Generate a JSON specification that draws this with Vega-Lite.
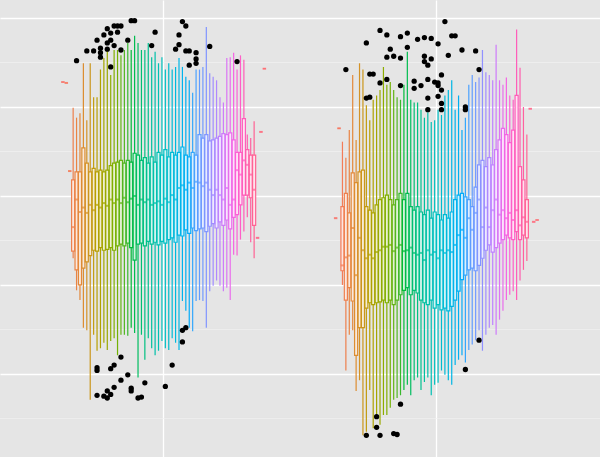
{
  "$schema": "https://vega.github.io/schema/vega-lite/v6.json",
  "width": 600,
  "height": 457,
  "autosize": {"type": "none"},
  "padding": 0,
  "background": "#E5E5E5",
  "config": {"view": {"stroke": null, "fill": "#E5E5E5"}},
  "datasets": {
    "minor": [{"v": -5}, {"v": 5}, {"v": 15}, {"v": 25}, {"v": 35}],
    "boxes": [
      {"g":"a","k":1,"lo":32.8,"q1":32.8,"med":32.8,"q3":32.8,"hi":32.8},
      {"g":"a","k":2,"lo":32.7,"q1":32.7,"med":32.7,"q3":32.7,"hi":32.7},
      {"g":"a","k":3,"lo":22.8,"q1":22.8,"med":22.8,"q3":22.8,"hi":22.8},
      {"g":"a","k":4,"lo":13.0,"q1":13.8,"med":16.5,"q3":21.8,"hi":29.9},
      {"g":"a","k":5,"lo":9.4,"q1":11.7,"med":19.6,"q3":22.7,"hi":28.8},
      {"g":"a","k":6,"lo":8.3,"q1":10.0,"med":18.2,"q3":22.7,"hi":29.3},
      {"g":"a","k":7,"lo":5.2,"q1":11.9,"med":18.7,"q3":25.4,"hi":34.9},
      {"g":"a","k":8,"lo":4.9,"q1":12.6,"med":18.1,"q3":23.7,"hi":28.5},
      {"g":"a","k":9,"lo":-2.9,"q1":13.3,"med":19.0,"q3":22.7,"hi":34.9},
      {"g":"a","k":10,"lo":4.4,"q1":13.9,"med":18.4,"q3":23.1,"hi":31.1},
      {"g":"a","k":11,"lo":2.6,"q1":13.8,"med":19.0,"q3":22.7,"hi":31.1},
      {"g":"a","k":12,"lo":2.9,"q1":14.2,"med":18.7,"q3":22.9,"hi":34.2},
      {"g":"a","k":13,"lo":3.5,"q1":13.9,"med":19.2,"q3":22.7,"hi":35.5},
      {"g":"a","k":14,"lo":2.7,"q1":14.0,"med":18.9,"q3":22.9,"hi":36.4},
      {"g":"a","k":15,"lo":3.7,"q1":14.2,"med":19.6,"q3":23.4,"hi":33.6},
      {"g":"a","k":16,"lo":4.0,"q1":13.9,"med":19.2,"q3":23.7,"hi":36.4},
      {"g":"a","k":17,"lo":2.1,"q1":14.4,"med":19.6,"q3":23.8,"hi":36.4},
      {"g":"a","k":18,"lo":4.4,"q1":14.6,"med":19.2,"q3":24.0,"hi":35.8},
      {"g":"a","k":19,"lo":4.4,"q1":14.4,"med":19.8,"q3":23.7,"hi":36.4},
      {"g":"a","k":20,"lo":4.3,"q1":14.7,"med":19.3,"q3":24.0,"hi":37.2},
      {"g":"a","k":21,"lo":5.2,"q1":14.2,"med":19.7,"q3":23.8,"hi":36.4},
      {"g":"a","k":22,"lo":4.6,"q1":12.8,"med":20.0,"q3":24.8,"hi":38.0},
      {"g":"a","k":23,"lo":-0.4,"q1":14.6,"med":19.0,"q3":24.6,"hi":37.2},
      {"g":"a","k":24,"lo":4.4,"q1":14.7,"med":19.6,"q3":24.0,"hi":36.4},
      {"g":"a","k":25,"lo":1.6,"q1":14.4,"med":19.3,"q3":24.3,"hi":36.4},
      {"g":"a","k":26,"lo":4.0,"q1":14.9,"med":19.6,"q3":23.7,"hi":37.2},
      {"g":"a","k":27,"lo":2.9,"q1":14.6,"med":19.0,"q3":24.4,"hi":35.6},
      {"g":"a","k":28,"lo":2.1,"q1":14.8,"med":19.2,"q3":23.8,"hi":36.2},
      {"g":"a","k":29,"lo":2.6,"q1":14.5,"med":19.4,"q3":24.9,"hi":34.9},
      {"g":"a","k":30,"lo":3.7,"q1":14.9,"med":19.0,"q3":24.6,"hi":35.6},
      {"g":"a","k":31,"lo":2.9,"q1":14.7,"med":19.7,"q3":25.2,"hi":34.2},
      {"g":"a","k":32,"lo":2.7,"q1":15.1,"med":19.3,"q3":24.4,"hi":34.9},
      {"g":"a","k":33,"lo":4.0,"q1":15.3,"med":20.1,"q3":24.9,"hi":34.2},
      {"g":"a","k":34,"lo":3.5,"q1":14.8,"med":19.6,"q3":24.6,"hi":34.5},
      {"g":"a","k":35,"lo":2.7,"q1":15.6,"med":20.9,"q3":24.9,"hi":35.5},
      {"g":"a","k":36,"lo":8.2,"q1":15.5,"med":21.2,"q3":25.5,"hi":34.5},
      {"g":"a","k":37,"lo":7.1,"q1":16.2,"med":20.7,"q3":24.6,"hi":33.4},
      {"g":"a","k":38,"lo":5.2,"q1":15.8,"med":21.5,"q3":24.4,"hi":33.0},
      {"g":"a","k":39,"lo":4.8,"q1":16.4,"med":20.9,"q3":24.9,"hi":31.6},
      {"g":"a","k":40,"lo":8.2,"q1":16.1,"med":21.6,"q3":24.6,"hi":34.2},
      {"g":"a","k":41,"lo":8.3,"q1":16.3,"med":21.5,"q3":26.9,"hi":34.2},
      {"g":"a","k":42,"lo":8.2,"q1":16.4,"med":21.1,"q3":26.5,"hi":34.5},
      {"g":"a","k":43,"lo":5.2,"q1":16.0,"med":21.5,"q3":26.9,"hi":39.0},
      {"g":"a","k":44,"lo":9.3,"q1":16.6,"med":20.7,"q3":26.2,"hi":33.8},
      {"g":"a","k":45,"lo":9.9,"q1":16.9,"med":20.1,"q3":26.3,"hi":33.4},
      {"g":"a","k":46,"lo":10.5,"q1":16.4,"med":20.7,"q3":26.5,"hi":33.0},
      {"g":"a","k":47,"lo":9.9,"q1":17.1,"med":20.1,"q3":26.7,"hi":31.1},
      {"g":"a","k":48,"lo":9.3,"q1":16.7,"med":19.6,"q3":27.0,"hi":30.5},
      {"g":"a","k":49,"lo":9.7,"q1":17.3,"med":20.9,"q3":26.9,"hi":35.5},
      {"g":"a","k":50,"lo":8.3,"q1":16.3,"med":19.0,"q3":27.1,"hi":35.6},
      {"g":"a","k":51,"lo":13.4,"q1":17.6,"med":19.6,"q3":26.3,"hi":36.1},
      {"g":"a","k":52,"lo":13.3,"q1":17.9,"med":22.9,"q3":24.9,"hi":34.2},
      {"g":"a","k":53,"lo":15.1,"q1":19.0,"med":22.4,"q3":24.9,"hi":35.8},
      {"g":"a","k":54,"lo":16.0,"q1":20.1,"med":24.0,"q3":28.7,"hi":35.3},
      {"g":"a","k":55,"lo":17.6,"q1":20.1,"med":23.5,"q3":25.2,"hi":26.9},
      {"g":"a","k":56,"lo":14.8,"q1":19.8,"med":22.4,"q3":24.6,"hi":26.5},
      {"g":"a","k":57,"lo":13.0,"q1":16.7,"med":20.7,"q3":24.6,"hi":28.4},
      {"g":"a","k":58,"lo":15.3,"q1":15.3,"med":15.3,"q3":15.3,"hi":15.3},
      {"g":"a","k":59,"lo":27.2,"q1":27.2,"med":27.2,"q3":27.2,"hi":27.2},
      {"g":"a","k":60,"lo":34.3,"q1":34.3,"med":34.3,"q3":34.3,"hi":34.3},
      {"g":"b","k":1,"lo":17.5,"q1":17.5,"med":17.5,"q3":17.5,"hi":17.5},
      {"g":"b","k":2,"lo":27.6,"q1":27.6,"med":27.6,"q3":27.6,"hi":27.6},
      {"g":"b","k":3,"lo":10.0,"q1":11.6,"med":12.2,"q3":18.8,"hi":26.1},
      {"g":"b","k":4,"lo":0.4,"q1":8.3,"med":13.1,"q3":20.3,"hi":24.3},
      {"g":"b","k":5,"lo":4.4,"q1":9.7,"med":13.3,"q3":18.1,"hi":27.4},
      {"g":"b","k":6,"lo":4.9,"q1":8.2,"med":16.4,"q3":22.6,"hi":33.6},
      {"g":"b","k":7,"lo":-1.9,"q1":2.1,"med":11.1,"q3":21.5,"hi":26.3},
      {"g":"b","k":8,"lo":-0.7,"q1":5.2,"med":15.3,"q3":22.7,"hi":34.9},
      {"g":"b","k":9,"lo":-6.9,"q1":5.2,"med":13.9,"q3":22.9,"hi":34.2},
      {"g":"b","k":10,"lo":-6.5,"q1":7.4,"med":13.0,"q3":18.8,"hi":30.2},
      {"g":"b","k":11,"lo":-1.8,"q1":8.0,"med":13.4,"q3":18.4,"hi":28.5},
      {"g":"b","k":12,"lo":-6.1,"q1":7.8,"med":13.0,"q3":18.1,"hi":30.8},
      {"g":"b","k":13,"lo":-4.6,"q1":8.0,"med":13.7,"q3":19.0,"hi":31.3},
      {"g":"b","k":14,"lo":-5.7,"q1":8.1,"med":13.9,"q3":19.6,"hi":31.9},
      {"g":"b","k":15,"lo":-4.6,"q1":8.3,"med":14.3,"q3":19.8,"hi":34.5},
      {"g":"b","k":16,"lo":-4.6,"q1":8.0,"med":14.3,"q3":20.1,"hi":32.5},
      {"g":"b","k":17,"lo":-3.8,"q1":8.3,"med":14.5,"q3":19.6,"hi":32.8},
      {"g":"b","k":18,"lo":-2.9,"q1":7.8,"med":13.8,"q3":19.0,"hi":31.9},
      {"g":"b","k":19,"lo":-2.7,"q1":8.3,"med":14.2,"q3":19.6,"hi":31.1},
      {"g":"b","k":20,"lo":-2.4,"q1":8.9,"med":14.5,"q3":20.3,"hi":30.8},
      {"g":"b","k":21,"lo":-1.8,"q1":9.4,"med":13.8,"q3":19.6,"hi":32.5},
      {"g":"b","k":22,"lo":-1.2,"q1":9.7,"med":13.9,"q3":20.3,"hi":36.2},
      {"g":"b","k":23,"lo":-2.4,"q1":8.9,"med":14.2,"q3":18.8,"hi":30.8},
      {"g":"b","k":24,"lo":-0.7,"q1":9.4,"med":13.6,"q3":18.4,"hi":30.5},
      {"g":"b","k":25,"lo":-0.4,"q1":9.1,"med":13.4,"q3":18.8,"hi":30.5},
      {"g":"b","k":26,"lo":-1.8,"q1":8.3,"med":13.6,"q3":18.2,"hi":29.7},
      {"g":"b","k":27,"lo":-0.9,"q1":8.0,"med":12.8,"q3":17.9,"hi":28.8},
      {"g":"b","k":28,"lo":-0.4,"q1":7.8,"med":13.9,"q3":18.4,"hi":29.4},
      {"g":"b","k":29,"lo":-2.4,"q1":8.3,"med":13.4,"q3":17.5,"hi":28.3},
      {"g":"b","k":30,"lo":-1.2,"q1":7.4,"med":13.7,"q3":18.2,"hi":28.5},
      {"g":"b","k":31,"lo":-1.0,"q1":7.8,"med":13.0,"q3":17.9,"hi":29.7},
      {"g":"b","k":32,"lo":0.4,"q1":7.2,"med":13.9,"q3":17.3,"hi":29.1},
      {"g":"b","k":33,"lo":-0.1,"q1":7.4,"med":13.6,"q3":17.9,"hi":31.3},
      {"g":"b","k":34,"lo":-0.7,"q1":7.1,"med":13.9,"q3":17.5,"hi":31.9},
      {"g":"b","k":35,"lo":-1.2,"q1":7.6,"med":13.7,"q3":18.2,"hi":33.0},
      {"g":"b","k":36,"lo":1.0,"q1":8.3,"med":14.5,"q3":19.6,"hi":29.7},
      {"g":"b","k":37,"lo":1.6,"q1":9.3,"med":15.6,"q3":20.1,"hi":31.3},
      {"g":"b","k":38,"lo":2.1,"q1":10.6,"med":16.2,"q3":20.3,"hi":27.4},
      {"g":"b","k":39,"lo":1.3,"q1":11.1,"med":15.3,"q3":19.9,"hi":28.8},
      {"g":"b","k":40,"lo":2.7,"q1":11.7,"med":17.5,"q3":19.6,"hi":32.5},
      {"g":"b","k":41,"lo":3.3,"q1":11.9,"med":16.2,"q3":18.8,"hi":33.6},
      {"g":"b","k":42,"lo":3.8,"q1":11.6,"med":18.1,"q3":21.0,"hi":32.8},
      {"g":"b","k":43,"lo":4.9,"q1":12.2,"med":19.6,"q3":23.5,"hi":33.3},
      {"g":"b","k":44,"lo":2.6,"q1":13.0,"med":16.5,"q3":24.0,"hi":36.4},
      {"g":"b","k":45,"lo":4.4,"q1":13.9,"med":18.7,"q3":23.3,"hi":33.9},
      {"g":"b","k":46,"lo":5.2,"q1":14.5,"med":16.5,"q3":24.3,"hi":33.6},
      {"g":"b","k":47,"lo":5.5,"q1":13.7,"med":18.4,"q3":23.5,"hi":33.0},
      {"g":"b","k":48,"lo":4.4,"q1":14.2,"med":19.6,"q3":25.2,"hi":37.0},
      {"g":"b","k":49,"lo":6.1,"q1":14.7,"med":17.9,"q3":26.3,"hi":33.0},
      {"g":"b","k":50,"lo":7.1,"q1":15.1,"med":18.4,"q3":27.6,"hi":32.5},
      {"g":"b","k":51,"lo":8.3,"q1":15.6,"med":17.5,"q3":26.9,"hi":33.3},
      {"g":"b","k":52,"lo":8.9,"q1":15.3,"med":18.1,"q3":26.0,"hi":31.3},
      {"g":"b","k":53,"lo":9.3,"q1":15.1,"med":17.3,"q3":27.4,"hi":30.8},
      {"g":"b","k":54,"lo":8.3,"q1":16.0,"med":18.4,"q3":31.3,"hi":38.7},
      {"g":"b","k":55,"lo":10.5,"q1":15.1,"med":16.7,"q3":23.3,"hi":34.4},
      {"g":"b","k":56,"lo":11.7,"q1":15.6,"med":17.6,"q3":21.8,"hi":30.0},
      {"g":"b","k":57,"lo":12.7,"q1":15.3,"med":17.1,"q3":19.6,"hi":26.9},
      {"g":"b","k":58,"lo":29.8,"q1":29.8,"med":29.8,"q3":29.8,"hi":29.8},
      {"g":"b","k":59,"lo":17.1,"q1":17.1,"med":17.1,"q3":17.1,"hi":17.1},
      {"g":"b","k":60,"lo":17.3,"q1":17.3,"med":17.3,"q3":17.3,"hi":17.3}
    ],
    "outliers": [
      {"g":"a","k":5,"v":35.2},{"g":"a","k":8,"v":36.3},{"g":"a","k":10,"v":36.3},{"g":"a","k":11,"v":37.5},
      {"g":"a","k":12,"v":36.6},{"g":"a","k":12,"v":36.1},{"g":"a","k":12,"v":35.6},{"g":"a","k":13,"v":38.1},
      {"g":"a","k":14,"v":38.8},{"g":"a","k":14,"v":37.2},{"g":"a","k":14,"v":36.5},{"g":"a","k":15,"v":37.5},
      {"g":"a","k":15,"v":34.5},{"g":"a","k":15,"v":38.3},{"g":"a","k":16,"v":39.1},{"g":"a","k":16,"v":36.9},
      {"g":"a","k":17,"v":39.1},{"g":"a","k":17,"v":38.4},{"g":"a","k":18,"v":39.1},{"g":"a","k":18,"v":36.4},
      {"g":"a","k":20,"v":37.5},{"g":"a","k":21,"v":39.7},{"g":"a","k":22,"v":39.7},{"g":"a","k":27,"v":36.9},
      {"g":"a","k":28,"v":38.4},{"g":"a","k":34,"v":36.5},{"g":"a","k":35,"v":38.1},{"g":"a","k":35,"v":37.0},
      {"g":"a","k":36,"v":39.6},{"g":"a","k":37,"v":39.1},{"g":"a","k":37,"v":36.3},{"g":"a","k":38,"v":36.3},
      {"g":"a","k":38,"v":34.7},{"g":"a","k":40,"v":36.1},{"g":"a","k":40,"v":35.4},{"g":"a","k":40,"v":34.9},
      {"g":"a","k":44,"v":36.8},{"g":"a","k":52,"v":35.1},
      {"g":"a","k":11,"v":0.7},{"g":"a","k":11,"v":0.4},{"g":"a","k":11,"v":-2.4},{"g":"a","k":13,"v":-2.5},
      {"g":"a","k":14,"v":-1.9},{"g":"a","k":14,"v":-2.7},{"g":"a","k":15,"v":-2.3},{"g":"a","k":15,"v":0.6},
      {"g":"a","k":16,"v":1.0},{"g":"a","k":16,"v":-1.5},{"g":"a","k":18,"v":1.9},{"g":"a","k":18,"v":-0.7},
      {"g":"a","k":20,"v":-0.1},{"g":"a","k":21,"v":-1.6},{"g":"a","k":21,"v":-1.9},{"g":"a","k":23,"v":-2.7},
      {"g":"a","k":24,"v":-2.6},{"g":"a","k":25,"v":-1.0},{"g":"a","k":31,"v":-1.4},{"g":"a","k":33,"v":1.0},
      {"g":"a","k":36,"v":3.6},{"g":"a","k":36,"v":4.9},{"g":"a","k":37,"v":5.2},
      {"g":"b","k":4,"v":34.2},{"g":"b","k":10,"v":37.2},{"g":"b","k":10,"v":31.0},{"g":"b","k":11,"v":31.1},
      {"g":"b","k":11,"v":33.7},{"g":"b","k":12,"v":33.7},{"g":"b","k":14,"v":38.6},{"g":"b","k":14,"v":32.7},
      {"g":"b","k":16,"v":33.1},{"g":"b","k":16,"v":38.1},{"g":"b","k":16,"v":35.6},{"g":"b","k":17,"v":36.5},
      {"g":"b","k":18,"v":35.7},{"g":"b","k":20,"v":37.9},{"g":"b","k":20,"v":35.5},{"g":"b","k":20,"v":32.4},
      {"g":"b","k":22,"v":38.3},{"g":"b","k":22,"v":36.7},{"g":"b","k":24,"v":32.9},{"g":"b","k":24,"v":32.1},
      {"g":"b","k":25,"v":37.6},{"g":"b","k":26,"v":32.4},{"g":"b","k":27,"v":37.8},{"g":"b","k":27,"v":35.7},
      {"g":"b","k":27,"v":35.1},{"g":"b","k":28,"v":34.7},{"g":"b","k":28,"v":33.1},{"g":"b","k":28,"v":31.0},
      {"g":"b","k":28,"v":29.7},{"g":"b","k":29,"v":37.7},{"g":"b","k":29,"v":35.4},{"g":"b","k":30,"v":32.8},
      {"g":"b","k":31,"v":37.1},{"g":"b","k":31,"v":32.7},{"g":"b","k":31,"v":31.2},{"g":"b","k":31,"v":32.4},
      {"g":"b","k":32,"v":33.6},{"g":"b","k":32,"v":31.9},{"g":"b","k":32,"v":30.4},{"g":"b","k":32,"v":29.7},
      {"g":"b","k":33,"v":39.6},{"g":"b","k":34,"v":35.8},{"g":"b","k":35,"v":38.0},{"g":"b","k":36,"v":38.0},
      {"g":"b","k":38,"v":36.4},{"g":"b","k":39,"v":30.0},{"g":"b","k":39,"v":29.7},{"g":"b","k":42,"v":36.3},
      {"g":"b","k":43,"v":34.2},
      {"g":"b","k":10,"v":-6.9},{"g":"b","k":13,"v":-4.8},{"g":"b","k":13,"v":-6.0},{"g":"b","k":14,"v":-6.9},
      {"g":"b","k":18,"v":-6.7},{"g":"b","k":19,"v":-6.8},{"g":"b","k":20,"v":-3.4},{"g":"b","k":39,"v":0.5},
      {"g":"b","k":43,"v":3.8}
    ]
  },
  "encoding": {
    "x": {"field": "g", "type": "nominal",
          "scale": {"domain": ["a", "b"], "paddingInner": 0.25, "paddingOuter": 0.225},
          "axis": {"title": null, "labels": false, "ticks": false, "domain": false, "grid": true,
                   "gridColor": "#FFFFFF", "gridWidth": 1.3, "bandPosition": 0.5, "minExtent": 0}}
  },
  "layer": [
    {
      "data": {"name": "minor"},
      "mark": {"type": "rule", "color": "#F2F2F2", "strokeWidth": 0.7},
      "encoding": {
        "x": null,
        "y": {"field": "v", "type": "quantitative",
              "scale": {"domain": [-9.33, 42.02], "nice": false, "zero": false},
              "axis": {"title": null, "labels": false, "ticks": false, "domain": false, "grid": true,
                       "values": [0, 10, 20, 30, 40], "gridColor": "#FFFFFF", "gridWidth": 1.3, "minExtent": 0}}
      }
    },
    {
      "data": {"name": "boxes"},
      "mark": {"type": "rule", "strokeWidth": 1.2},
      "encoding": {
        "xOffset": {"field": "k", "type": "nominal", "scale": {"paddingInner": 0.1, "paddingOuter": 0}},
        "y": {"field": "lo", "type": "quantitative"},
        "y2": {"field": "hi"},
        "color": {"field": "k", "type": "quantitative", "legend": null,
                  "scale": {"domain": [1, 11, 21, 31, 41, 51, 61],
                            "range": ["#F8766D", "#B79F00", "#00BA38", "#00BFC4", "#619CFF", "#F564E3", "#F8766D"],
                            "interpolate": "hcl"}}
      }
    },
    {
      "data": {"name": "boxes"},
      "mark": {"type": "bar", "fill": "#FFFFFF", "strokeWidth": 0},
      "encoding": {
        "xOffset": {"field": "k", "type": "nominal"},
        "y": {"field": "q1", "type": "quantitative"},
        "y2": {"field": "q3"}
      }
    },
    {
      "data": {"name": "boxes"},
      "mark": {"type": "bar", "fillOpacity": 0.18, "strokeWidth": 1.2},
      "encoding": {
        "xOffset": {"field": "k", "type": "nominal"},
        "y": {"field": "q1", "type": "quantitative"},
        "y2": {"field": "q3"},
        "fill": {"field": "k", "type": "quantitative", "legend": null,
                 "scale": {"domain": [1, 11, 21, 31, 41, 51, 61],
                           "range": ["#F8766D", "#B79F00", "#00BA38", "#00BFC4", "#619CFF", "#F564E3", "#F8766D"],
                           "interpolate": "hcl"}},
        "stroke": {"field": "k", "type": "quantitative", "legend": null,
                   "scale": {"domain": [1, 11, 21, 31, 41, 51, 61],
                             "range": ["#F8766D", "#B79F00", "#00BA38", "#00BFC4", "#619CFF", "#F564E3", "#F8766D"],
                             "interpolate": "hcl"}}
      }
    },
    {
      "data": {"name": "boxes"},
      "mark": {"type": "tick", "thickness": 2, "size": 3.5},
      "encoding": {
        "xOffset": {"field": "k", "type": "nominal"},
        "y": {"field": "med", "type": "quantitative"},
        "color": {"field": "k", "type": "quantitative", "legend": null}
      }
    },
    {
      "data": {"name": "outliers"},
      "mark": {"type": "point", "filled": true, "color": "#000000", "size": 28, "opacity": 1},
      "encoding": {
        "xOffset": {"field": "k", "type": "nominal"},
        "y": {"field": "v", "type": "quantitative"}
      }
    }
  ]
}
